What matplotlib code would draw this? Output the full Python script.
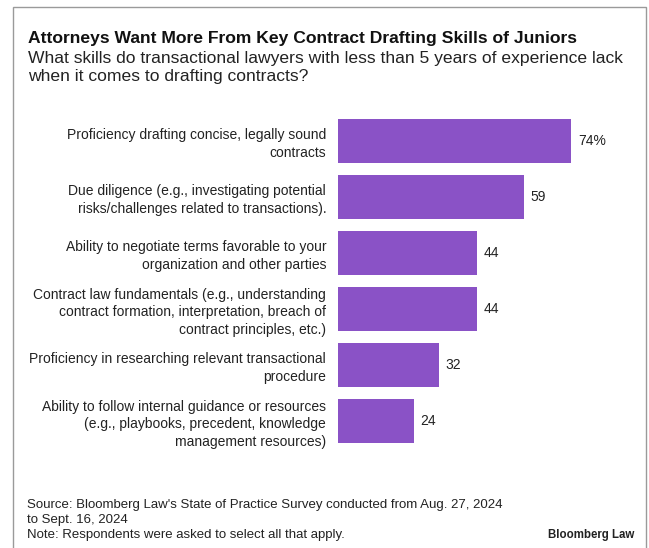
import matplotlib.pyplot as plt
from matplotlib.patches import Rectangle

plt.rcParams['font.family'] = ['Liberation Sans', 'DejaVu Sans']

skills = [
    "Proficiency drafting concise, legally sound\ncontracts",
    "Due diligence (e.g., investigating potential\nrisks/challenges related to transactions).",
    "Ability to negotiate terms favorable to your\norganization and other parties",
    "Contract law fundamentals (e.g., understanding\ncontract formation, interpretation, breach of\ncontract principles, etc.)",
    "Proficiency in researching relevant transactional\nprocedure",
    "Ability to follow internal guidance or resources\n(e.g., playbooks, precedent, knowledge\nmanagement resources)",
]
shares = [74, 59, 44, 44, 32, 24]
value_labels = ["74%", "59", "44", "44", "32", "24"]

bar_color = "#8a52c6"
text_color = "#222222"

fig = plt.figure(figsize=(6.49, 5.48), dpi=100)
W, H = 649, 548

# thin grey frame around the graphic
fig.add_artist(Rectangle((13 / W, -0.02), 633 / W, 1.02 - 7 / H,
                         transform=fig.transFigure, fill=False,
                         edgecolor="#9a9a9a", linewidth=1.0))

ax = fig.add_axes([338 / W, 1 - 449 / H, 283.5 / W, 336 / H])
ypos = list(range(len(shares)))
ax.barh(ypos, shares, height=0.79, color=bar_color)
ax.set_xlim(0, 90)
ax.set_ylim(len(shares) - 0.5, -0.5)

for y, v, lab in zip(ypos, shares, value_labels):
    ax.annotate(lab, (v, y), xytext=(5, 0), textcoords="offset points",
                va="center", ha="left", fontsize=10, color=text_color)

ax.set_yticks(ypos, skills)
ax.tick_params(axis="y", length=0, pad=8.5, labelsize=10, labelcolor=text_color)
for t in ax.get_yticklabels():
    t.set_linespacing(1.36)
    t.set_ha("right")
ax.set_xticks([])
for s in ax.spines.values():
    s.set_visible(False)

# headline and subhead
fig.text(28 / W, 1 - 38 / H, "Attorneys Want More From Key Contract Drafting Skills of Juniors",
         fontsize=12.6, fontweight="bold", va="center", ha="left", color="#111111")
fig.text(28 / W, 1 - 67.5 / H,
         "What skills do transactional lawyers with less than 5 years of experience lack\nwhen it comes to drafting contracts?",
         fontsize=12.6, va="center", ha="left", color=text_color, linespacing=1.22)

# footer
fig.text(27 / W, 1 - 520 / H,
         "Source: Bloomberg Law's State of Practice Survey conducted from Aug. 27, 2024\nto Sept. 16, 2024\nNote: Respondents were asked to select all that apply.",
         fontsize=9.5, va="center", ha="left", color=text_color, linespacing=1.3)
fig.text(634 / W, 1 - 535 / H, "Bloomberg Law", fontsize=8.3, fontweight="bold",
         va="center", ha="right", color=text_color)

fig.savefig("out.png", dpi=100)
